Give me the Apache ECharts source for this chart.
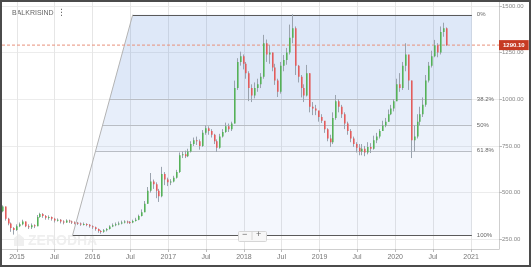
<!DOCTYPE html>
<html><head><meta charset="utf-8">
<script src="https://cdn.jsdelivr.net/npm/echarts@6/dist/echarts.min.js"></script>
<style>
html,body{margin:0;padding:0;background:#fff;}
#c{width:531px;height:268px;position:absolute;left:0;top:0;}
#frame{position:absolute;left:0;top:0;width:531px;height:267px;box-sizing:border-box;border:2px solid #4b4b4b;pointer-events:none;}
</style></head><body>
<div id="c"></div><div id="frame"></div>
<script>
// ---- data (biweekly candles) ----
const startDate = Date.UTC(2014, 9, 20);
const stepDays = 14;
const firstOpen = 400;
const closes = [
425,360,335,310,300,320,330,345,320,315,
325,320,370,385,375,365,370,360,350,355,
345,340,350,345,340,338,335,330,332,328,
320,315,305,295,290,298,305,318,325,330,
335,340,345,342,340,348,355,375,395,440,
510,560,545,510,480,600,570,555,560,580,
610,700,705,695,720,760,780,775,750,820,
845,830,810,775,740,800,825,855,840,870,
1060,1200,1230,1190,1140,1060,1020,1060,1080,1120,
1300,1240,1250,1170,1100,1040,1180,1210,1250,1330,
1380,1180,1120,1060,1020,1140,960,950,940,905,
885,840,790,770,900,990,960,920,870,830,
790,760,740,720,735,715,745,735,780,800,
830,860,880,920,950,990,1080,1060,1180,1240,
1100,780,800,880,920,970,1100,1180,1230,1290,
1250,1360,1380,1290.1];
const highs = [
432,425,365,340,315,330,340,355,345,330,
335,330,380,392,390,380,378,372,365,362,
358,352,357,355,350,346,343,340,340,336,
332,325,318,308,300,305,310,325,335,340,
345,350,352,350,348,355,365,382,410,455,
530,605,570,555,520,638,610,580,572,590,
622,715,720,725,735,775,795,800,785,835,
860,855,840,815,785,815,840,875,870,880,
1100,1220,1255,1240,1200,1150,1080,1090,1110,1140,
1345,1320,1290,1250,1190,1110,1200,1237,1275,1400,
1455,1390,1184,1130,1080,1184,1140,985,970,935,
920,875,845,810,930,1023,1000,970,930,880,
840,800,770,760,760,750,770,765,805,820,
840,885,900,945,970,1000,1110,1140,1200,1300,
1220,1100,860,920,960,1010,1130,1200,1260,1318,
1300,1390,1410,1385];
const lows = [
395,350,325,290,275,295,315,325,315,305,
305,310,320,365,365,355,355,350,340,345,
335,330,338,337,332,330,327,322,324,320,
312,305,296,285,280,285,292,302,315,320,
325,330,335,334,332,336,345,352,372,395,
440,500,520,470,450,475,540,535,540,555,
575,605,685,685,690,715,750,755,730,745,
810,810,795,760,718,735,795,820,825,830,
870,1050,1180,1160,1110,990,985,1005,1040,1060,
1110,1200,1190,1150,1077,1012,1030,1150,1185,1240,
1300,1130,1090,1010,985,1015,930,915,915,880,
873,820,775,745,760,890,930,900,840,810,
770,745,715,700,700,695,705,712,730,765,
790,830,850,880,915,935,990,1040,1050,1150,
1050,685,720,790,860,905,960,1090,1170,1225,
1225,1240,1335,1285];
const lastPrice = 1290.10;
const yTicks = [250, 500, 750, 1000, 1250, 1500];
const xTicks = ['2015-01-01','2015-07-01','2016-01-01','2016-07-01','2017-01-01','2017-07-01',
  '2018-01-01','2018-07-01','2019-01-01','2019-07-01','2020-01-01','2020-07-01','2021-01-01'];
// Fibonacci retracement drawing
const fibLevels = [0, 0.382, 0.5, 0.618, 1];
const fibLabels = ['0%', '38.2%', '50%', '61.8%', '100%'];
const fibHigh = 1453, fibLow = 273;
const fibLowDate = '2015-09-27', fibHighDate = '2016-07-13', fibEndDate = '2021-01-05';

// ---- build ----
const DAY = 86400000;
const ts = s => Date.parse(s + 'T00:00:00Z');
const candles = closes.map((c, i) => [startDate + i * stepDays * DAY, i === 0 ? firstOpen : closes[i - 1], c, lows[i], highs[i]]);
const xTickTs = xTicks.map(ts);
const tLow = ts(fibLowDate), tHigh = ts(fibHighDate), tEnd = ts(fibEndDate);
const levelVal = p => fibHigh - p * (fibHigh - fibLow);
const diagT = v => tLow + (v - fibLow) / (fibHigh - fibLow) * (tHigh - tLow);
const bandFill = ['rgba(70,125,215,0.18)', 'rgba(70,125,215,0.13)', 'rgba(70,125,215,0.10)', 'rgba(70,125,215,0.06)'];
const xMin = ts('2014-10-21'), xMax = ts('2021-05-16');

const chart = echarts.init(document.getElementById('c'), null, {renderer: 'canvas'});
chart.setOption({
  animation: false,
  textStyle: {fontFamily: 'Arial'},
  grid: {left: 2, right: 32, top: 2, bottom: 19},
  xAxis: {
    type: 'value', min: xMin, max: xMax,
    axisLine: {show: true, lineStyle: {color: '#cfcfcf'}},
    axisTick: {show: true, length: 3, lineStyle: {color: '#bbb'}, customValues: xTickTs},
    axisLabel: {customValues: xTickTs, fontSize: 7, color: '#777', margin: 5,
      formatter: v => { const d = new Date(v); return d.getUTCMonth() === 0 ? String(d.getUTCFullYear()) : 'Jul'; }},
    splitLine: {show: true, lineStyle: {color: '#e6e6e6', width: 1}}
  },
  yAxis: {
    type: 'value', position: 'right', min: 198, max: 1521,
    axisLine: {show: true, lineStyle: {color: '#cfcfcf'}},
    axisTick: {show: true, length: 3, lineStyle: {color: '#bbb'}, customValues: yTicks},
    axisLabel: {customValues: yTicks, fontSize: 6, color: '#888', margin: 3, formatter: v => v.toFixed(2)},
    splitLine: {show: true, lineStyle: {color: '#ececec', width: 1}}
  },
  graphic: [
    {type: 'text', left: 12, top: 10, style: {text: 'BALKRISIND', fontSize: 7, fill: '#666', fontFamily: 'Arial'}},
    {type: 'text', left: 57, top: 8, style: {text: '\u22EE', fontSize: 9, fill: '#666', fontFamily: 'DejaVu Sans'}},
    {type: 'text', left: 28, top: 234, z: 0, style: {text: 'ZERODHA', fontSize: 14, fontWeight: 'bold', fill: '#efefef', fontFamily: 'Arial'}},
    {type: 'polygon', z: 0, shape: {points: [[14, 246], [14, 238], [19, 234], [24, 238], [24, 246]]}, style: {fill: '#efefef'}},
    {type: 'rect', left: 238, top: 231, z: 10, shape: {width: 28, height: 10, r: 1}, style: {fill: '#f7f7f7', stroke: '#d6d6d6'}},
    {type: 'text', left: 242, top: 230, z: 11, style: {text: '\u2212', fontSize: 9, fill: '#666', fontFamily: 'Arial'}},
    {type: 'line', z: 11, shape: {x1: 252, y1: 232, x2: 252, y2: 240}, style: {stroke: '#d6d6d6'}},
    {type: 'text', left: 256, top: 230, z: 11, style: {text: '+', fontSize: 9, fill: '#666', fontFamily: 'Arial'}}
  ],
  series: [
    {
      type: 'custom', z: 1, silent: true,
      data: fibLevels.map((p, i) => [i]),
      renderItem: (params, api) => {
        const i = params.dataIndex;
        const v = levelVal(fibLevels[i]);
        const a = api.coord([diagT(v), v]);
        const b = api.coord([tEnd, v]);
        const kids = [];
        if (i < fibLevels.length - 1) {
          const v2 = levelVal(fibLevels[i + 1]);
          const c = api.coord([tEnd, v2]);
          const d = api.coord([diagT(v2), v2]);
          kids.push({type: 'polygon', shape: {points: [a, b, c, d]}, style: {fill: bandFill[i]}});
        }
        const strong = (i === 0 || i === fibLevels.length - 1);
        kids.push({type: 'line', shape: {x1: a[0], y1: Math.round(a[1]) + 0.5, x2: b[0], y2: Math.round(b[1]) + 0.5},
          style: {stroke: strong ? '#5a5a5a' : '#b9bdc4', lineWidth: 1}});
        kids.push({type: 'text', x: b[0] + 5, y: b[1], style: {text: fibLabels[i], fontSize: 6, fill: '#666', fontFamily: 'Arial', verticalAlign: 'middle'}});
        return {type: 'group', children: kids};
      }
    },
    {
      type: 'line', z: 2, silent: true, symbol: 'none',
      data: [[tLow, fibLow], [tHigh, fibHigh]],
      lineStyle: {color: '#b3b3b3', width: 1}
    },
    {
      type: 'line', z: 3, silent: true, symbol: 'none',
      data: [[xMin, lastPrice], [xMax, lastPrice]],
      lineStyle: {color: '#e8907b', width: 1, type: [3, 2]},
      endLabel: {show: true, formatter: lastPrice.toFixed(2), backgroundColor: '#c63a22', color: '#fff',
        fontSize: 6, fontWeight: 'bold', padding: [2, 4], distance: 0}
    },
    {
      type: 'custom', z: 4, silent: true,
      data: candles,
      encode: {x: 0, y: [1, 2, 3, 4]},
      renderItem: (params, api) => {
        const t = api.value(0), o = api.value(1), c = api.value(2), l = api.value(3), h = api.value(4);
        const pH = api.coord([t, h]), pL = api.coord([t, l]), pO = api.coord([t, o]), pC = api.coord([t, c]);
        const x = Math.round(pH[0]);
        const top = Math.min(pO[1], pC[1]);
        const hgt = Math.max(1, Math.abs(pO[1] - pC[1]));
        return {type: 'group', children: [
          {type: 'line', shape: {x1: x + 0.5, y1: pH[1], x2: x + 0.5, y2: pL[1]}, style: {stroke: '#9aa3ae', lineWidth: 1}},
          {type: 'rect', shape: {x: x, y: top, width: 1.6, height: hgt}, style: {fill: c >= o ? '#55b158' : '#e25c5c'}}
        ]};
      }
    }
  ]
});
</script>
</body></html>
